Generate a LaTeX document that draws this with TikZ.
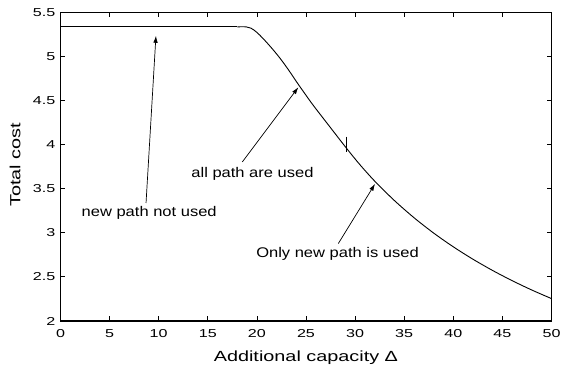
\documentclass[tikz,border=0pt]{standalone}
\usepackage{fontspec}
\setmainfont{Liberation Sans}[FakeStretch=1.18]
\newfontfamily\axisfont{Liberation Sans}[FakeStretch=1.35]
\newfontfamily\tickfont{Liberation Sans}[FakeStretch=1.4]
\usetikzlibrary{arrows.meta}
\begin{document}
\begin{tikzpicture}[x=1pt,y=1pt,
  annot/.style={font=\fontsize{14}{16}\selectfont, inner sep=0pt},
  axlabel/.style={font=\axisfont\fontsize{14.7}{17}\selectfont, inner sep=0pt},
  ticklab/.style={font=\tickfont\fontsize{11.5}{13}\selectfont, inner sep=0pt},
  curve/.style={line width=0.9pt},
  pointer/.style={line width=0.7pt,-{Latex[length=7pt,width=4.5pt]}},
  frame/.style={line width=1pt},
  tickmark/.style={line width=0.8pt}
]
\useasboundingbox (0,0) rectangle (563,370);
\begin{scope}[x=9.82pt, y=88.2pt, shift={(60.5pt,-127.4pt)}]
  % frame
  \draw[frame] (0,2) rectangle (50,5.5);
  \draw[line width=1.5pt] (0,5.5) -- (0,2) -- (50,2);
  % x ticks
  \foreach \i in {0,5,...,50} {
    \draw[tickmark] (\i,2) -- ++(0,4.5pt);
    \draw[tickmark] (\i,5.5) -- ++(0,-4.5pt);
    \node[ticklab, yshift=-12.3pt] (xt\i) at (\i,2) {\i};
  }
  % y ticks
  \foreach \v/\t [count=\k] in {2/2,2.5/2.5,3/3,3.5/3.5,4/4,4.5/4.5,5/5,5.5/5.5} {
    \draw[tickmark] (0,\v) -- ++(4.5pt,0);
    \draw[tickmark] (50,\v) -- ++(-4.5pt,0);
    \node[ticklab, anchor=east, xshift=-5pt] (yt\k) at (0,\v) {\t};
  }
  % axis labels
  \node[axlabel] (xlab) at (24.99,1.58) {Additional capacity Δ};
  \node[axlabel, rotate=90] (ylab) at (-4.62,3.77) {Total cost};
  % curve
  \draw[curve] (0,5.335) -- (18,5.335);
  \draw[curve] plot[smooth, tension=0.5] coordinates {
    (18,5.335) (18.9,5.335) (19.4,5.32) (20,5.272) (20.65,5.20)
    (21.5,5.095) (22.35,4.98) (23.2,4.85) (24.05,4.71) (24.9,4.575)
    (25.74,4.445) (27.44,4.20) (29.15,3.955) (30.5,3.771) (32.03,3.582)
    (34,3.366) (36,3.171) (38,2.997) (40,2.841) (42,2.7005) (44,2.573)
    (46,2.457) (48,2.351) (50,2.254)};
  % small mark on curve
  \draw[line width=0.6pt] (29.15,4.09) -- (29.15,3.913);
  % annotations
  \node[annot] (l1) at (9.03,3.225) {new path not used};
  \node[annot] (l2) at (19.55,3.671) {all path are used};
  \node[annot] (l3) at (28.21,2.756) {Only new path is used};
  \coordinate (s1) at (8.71,3.338);
  \coordinate (t1) at (9.72,5.234);
  \coordinate (s2) at (18.51,3.803);
  \coordinate (t2) at (24.22,4.650);
  \coordinate (s3) at (28.29,2.878);
  \coordinate (t3) at (32.03,3.555);
  \draw[pointer] (s1) -- (t1);
  \draw[pointer] (s2) -- (t2);
  \draw[pointer] (s3) -- (t3);
\end{scope}
\end{tikzpicture}
\end{document}
